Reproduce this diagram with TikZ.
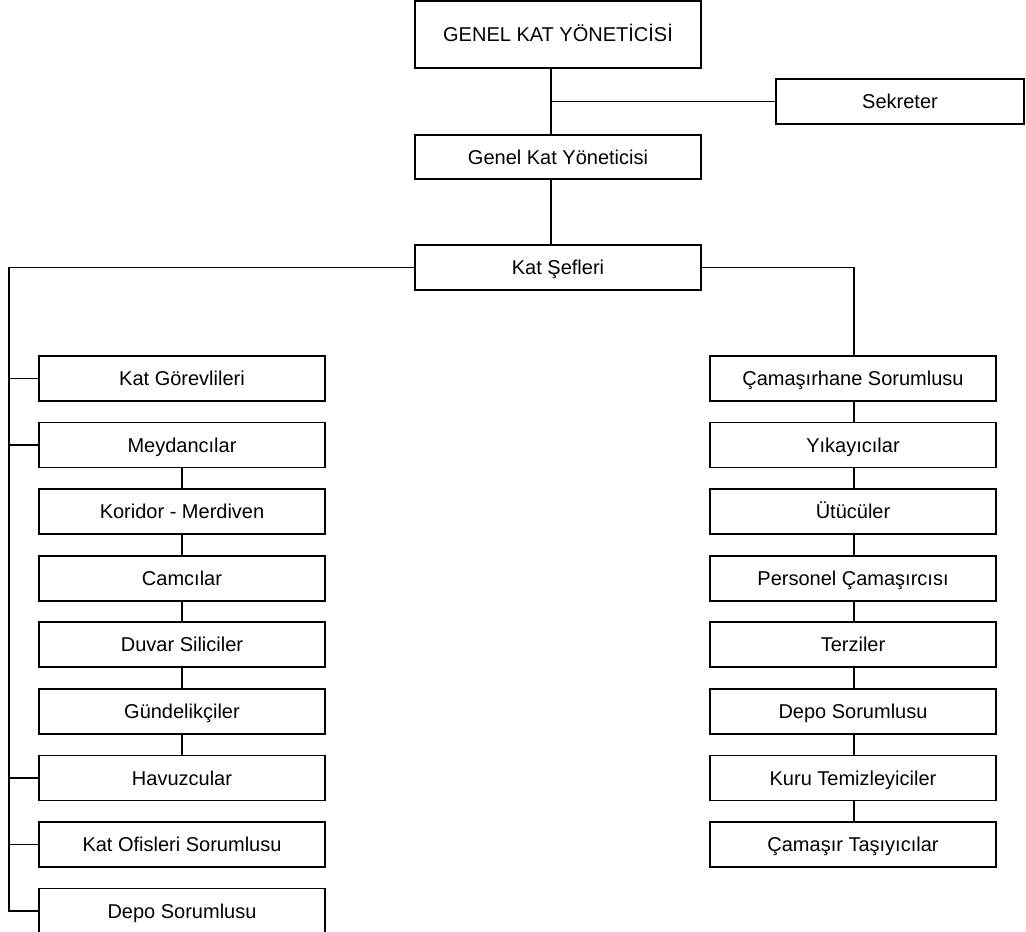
\documentclass[tikz,border=0pt]{standalone}
\usepackage{fontspec}
\setmainfont{Liberation Sans}
\begin{document}
\begin{tikzpicture}[x=1pt,y=-1pt,
  box/.style={draw,line width=1.8pt,rectangle,inner sep=0pt,outer sep=0pt,
    anchor=north west,text height=19pt,text depth=4.6pt,
    font=\fontsize{20}{24}\selectfont},
  wide/.style={box,minimum width=286pt,minimum height=45pt},
  link/.style={line width=1.8pt}]
\useasboundingbox (0,0) rectangle (1026,932);

% upper management
\node[box,minimum width=286pt,minimum height=67pt] (head) at (415,1) {GENEL KAT YÖNETİCİSİ};
\node[box,minimum width=248pt,minimum height=45pt] (sek) at (776,79) {Sekreter};
\node[wide,minimum height=44pt] (gky) at (415,135) {Genel Kat Yöneticisi};
\node[wide] (sef) at (415,245) {Kat Şefleri};

% left column
\foreach \i/\t in {0/Kat Görevlileri,1/Meydancılar,2/Koridor - Merdiven,3/Camcılar,
  4/Duvar Siliciler,5/Gündelikçiler,6/Havuzcular,7/Kat Ofisleri Sorumlusu,8/Depo Sorumlusu}
  \node[wide] (L\i) at (39,356+\i*66.57) {\t};

% right column
\foreach \i/\t in {0/Çamaşırhane Sorumlusu,1/Yıkayıcılar,2/Ütücüler,3/Personel Çamaşırcısı,
  4/Terziler,5/Depo Sorumlusu,6/Kuru Temizleyiciler,7/Çamaşır Taşıyıcılar}
  \node[wide] (R\i) at (710,356+\i*66.57) {\t};

\coordinate (trunk) at (551,0);
\coordinate (lbus) at (9,0);
\coordinate (rbus) at (854,0);

% connectors
\draw[link] (head.south -| trunk) -- (gky.north -| trunk);
\draw[link] (trunk |- sek.west) -- (sek.west);
\draw[link] (gky.south -| trunk) -- (sef.north -| trunk);
\draw[link] (sef.west) -- (lbus |- sef.west) -- (lbus |- L8.west) -- (L8.west);
\foreach \i in {0,1,6,7}
  \draw[link] (lbus |- L\i.west) -- (L\i.west);
\foreach \a/\b in {1/2,2/3,3/4,4/5,5/6}
  \draw[link] (L\a.south) -- (L\b.north);
\draw[link] (sef.east) -- (rbus |- sef.east) -- (R0.north -| rbus);
\foreach \a/\b in {0/1,1/2,2/3,3/4,4/5,5/6,6/7}
  \draw[link] (R\a.south -| rbus) -- (R\b.north -| rbus);
\end{tikzpicture}
\end{document}
